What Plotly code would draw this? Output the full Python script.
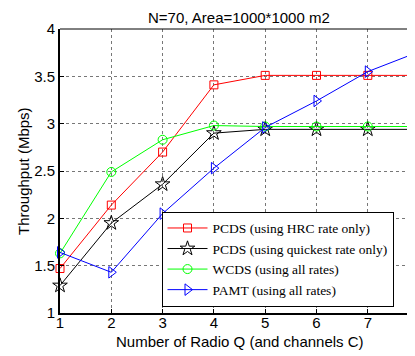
import plotly.graph_objects as go

x_vals = [1, 2, 3, 4, 5, 6, 7, 8]
pcds_hrc = [1.47, 2.14, 2.70, 3.41, 3.51, 3.51, 3.51, 3.51]
pcds_quick = [1.29, 1.95, 2.36, 2.90, 2.94, 2.94, 2.94, 2.94]
wcds_all = [1.63, 2.49, 2.83, 2.98, 2.97, 2.97, 2.97, 2.97]
pamt_all = [1.64, 1.43, 2.05, 2.53, 2.96, 3.24, 3.55, 3.76]

names = ["PCDS (using HRC rate only)", "PCDS (using quickest rate only)",
         "WCDS (using all rates)", "PAMT (using all rates)"]
series = [pcds_hrc, pcds_quick, wcds_all, pamt_all]
colors = ["#ff0000", "#000000", "#00ff00", "#0000ff"]
symbols = ["square-open", "star-open", "circle-open", "triangle-right-open"]
sizes = [8, 11, 9, 10]

x_ticks = [1, 2, 3, 4, 5, 6, 7]
y_ticks = [1, 1.5, 2, 2.5, 3, 3.5, 4]
y_tick_text = ["1", "1.5", "2", "2.5", "3", "3.5", "4"]

fig = go.Figure()
for nm, ys, c, s, sz in zip(names, series, colors, symbols, sizes):
    fig.add_trace(go.Scatter(
        x=x_vals, y=ys, name=nm, mode="lines+markers",
        line=dict(color=c, width=1),
        marker=dict(symbol=s, size=sz, color=c, line=dict(color=c, width=1)),
        cliponaxis=False,
    ))

axis_font = dict(family="Liberation Sans, Arial, sans-serif", size=15, color="#000")

# page body has an 8px margin, so the figure is sized to end at the window edge
W, H = 407, 348
L, T, B = 52, 21, 43

fig.update_layout(
    template="none",
    width=W, height=H,
    margin=dict(l=L, r=0, t=T, b=B, pad=0, autoexpand=False),
    paper_bgcolor="white", plot_bgcolor="white",
    showlegend=True,
    legend=dict(
        x=(161.5 - 60) / 355, y=(313.3 - 259.5) / 284, xanchor="left", yanchor="middle",
        bordercolor="black", borderwidth=1, bgcolor="white",
        font=dict(family="Liberation Serif, Times New Roman, serif", size=13.5, color="#000"),
        tracegroupgap=0, itemwidth=40,
    ),
    xaxis=dict(
        range=[1, 7.92], tickvals=x_ticks, ticktext=[str(v) for v in x_ticks],
        showgrid=True, gridcolor="#777", griddash="dot", gridwidth=1,
        showline=True, linecolor="black", linewidth=2,
        ticks="inside", ticklen=4, tickcolor="black",
        tickfont=axis_font, zeroline=False, automargin=False,
        ticklabelstandoff=-5,
    ),
    yaxis=dict(
        range=[1, 4], tickvals=y_ticks, ticktext=y_tick_text,
        showgrid=True, gridcolor="#777", griddash="dot", gridwidth=1,
        showline=True, linecolor="black", linewidth=2,
        ticks="inside", ticklen=4, tickcolor="black",
        tickfont=axis_font, zeroline=False, automargin=False,
    ),
    shapes=[dict(type="line", xref="paper", yref="paper", x0=0, x1=1, y0=1, y1=1,
                 line=dict(color="black", width=1))],
    annotations=[
        dict(text="N=70, Area=1000*1000 m2", xref="paper", yref="paper",
             x=(239 - 60) / 355, y=1, yshift=12, xanchor="center", yanchor="middle",
             showarrow=False, font=axis_font),
        dict(text="Number of Radio Q (and channels C)", xref="paper", yref="paper",
             x=(240 - 60) / 355, y=0, yshift=-28, xanchor="center", yanchor="middle",
             showarrow=False, font=axis_font),
        dict(text="Throughput (Mbps)", xref="paper", yref="paper",
             x=0, xshift=-37, y=0.5, xanchor="center", yanchor="middle", textangle=-90,
             showarrow=False, font=axis_font),
    ],
)

fig.write_html("out.html")
